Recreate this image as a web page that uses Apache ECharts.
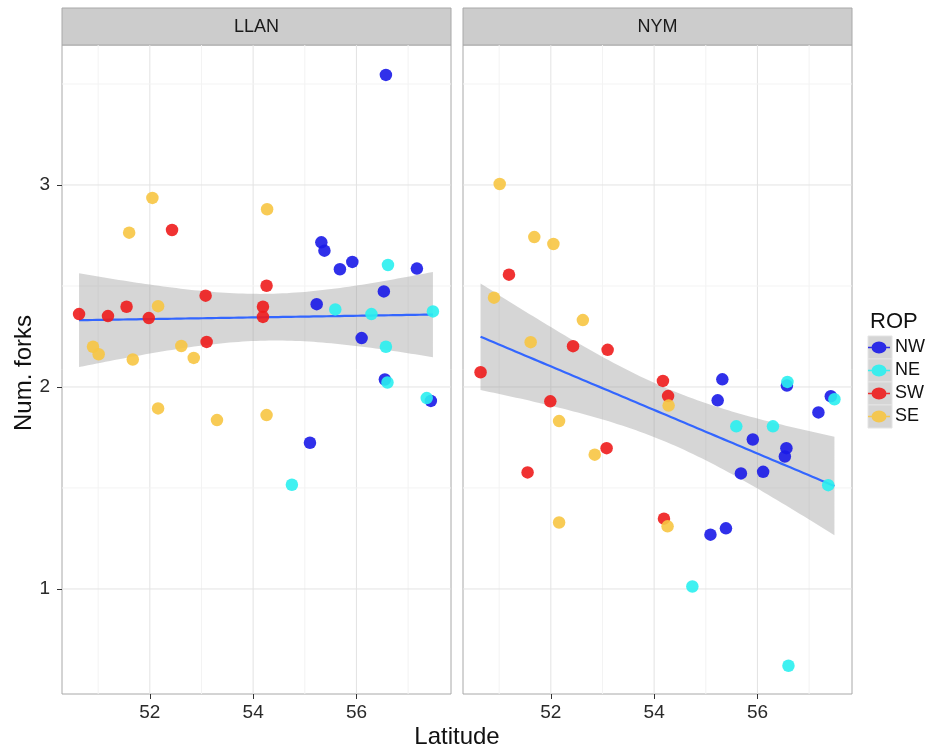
<!DOCTYPE html>
<html><head><meta charset="utf-8">
<script src="https://cdn.jsdelivr.net/npm/echarts@6/dist/echarts.min.js"></script>
<style>html,body{margin:0;padding:0;background:#fff}#c{width:930px;height:751px}</style>
</head><body><div id="c"></div>
<script>
// ---------- data ----------
const panels = ['LLAN', 'NYM'];
const ropGroups = ['NW', 'NE', 'SW', 'SE'];
const ropColors = {NW: '#1a1ae8', NE: '#2af0f0', SW: '#ee1c1c', SE: '#f7c543'};

// [latitude, number of forks]
const LLAN_NW = [[56.57,3.545],[55.32,2.716],[55.38,2.675],[55.68,2.583],[55.92,2.619],[57.17,2.586],[56.53,2.473],[55.23,2.41],[56.10,2.242],[56.55,2.037],[57.44,1.931],[55.10,1.724]];
const LLAN_NE = [[56.61,2.604],[55.59,2.384],[56.29,2.361],[57.48,2.374],[56.57,2.199],[56.60,2.022],[57.36,1.945],[54.75,1.516]];
const LLAN_SW = [[52.43,2.777],[54.26,2.501],[53.08,2.452],[50.63,2.361],[51.19,2.351],[51.55,2.397],[51.98,2.341],[54.19,2.397],[54.19,2.347],[53.10,2.223]];
const LLAN_SE = [[52.05,2.936],[54.27,2.88],[51.60,2.764],[52.16,2.40],[50.90,2.199],[51.01,2.162],[51.67,2.136],[52.61,2.203],[52.85,2.144],[52.16,1.894],[53.30,1.836],[54.26,1.861]];

const NYM_NW = [[55.32,2.038],[56.57,2.007],[57.42,1.954],[55.23,1.934],[57.18,1.874],[55.91,1.740],[56.56,1.697],[56.53,1.656],[55.68,1.572],[56.11,1.580],[55.09,1.269],[55.39,1.300]];
const NYM_NE = [[56.58,2.025],[57.49,1.939],[55.59,1.805],[56.30,1.805],[57.37,1.514],[54.74,1.012],[56.60,0.620]];
const NYM_SW = [[51.19,2.556],[52.43,2.202],[53.10,2.184],[50.64,2.073],[54.17,2.030],[54.27,1.955],[51.99,1.929],[53.08,1.697],[51.55,1.577],[54.19,1.348]];
const NYM_SE = [[51.01,3.005],[51.68,2.742],[52.05,2.708],[50.90,2.442],[52.62,2.331],[51.61,2.222],[54.28,1.908],[52.16,1.831],[52.85,1.665],[52.16,1.329],[54.26,1.310]];

const panelData = {
  LLAN: {NW: LLAN_NW, NE: LLAN_NE, SW: LLAN_SW, SE: LLAN_SE},
  NYM:  {NW: NYM_NW,  NE: NYM_NE,  SW: NYM_SW,  SE: NYM_SE}
};

const xTicks = [52, 54, 56];
const xMinor = [51, 53, 55, 57];
const yTicks = [1, 2, 3];
const yMinor = [1.5, 2.5, 3.5];
const xRange = [50.3, 57.83];
const yRange = [0.48, 3.693];

// ---------- linear fit with 95% confidence band (like geom_smooth(method="lm")) ----------
function lmBand(pts, steps) {
  const n = pts.length;
  let sx = 0, sy = 0;
  pts.forEach(p => { sx += p[0]; sy += p[1]; });
  const mx = sx / n, my = sy / n;
  let sxx = 0, sxy = 0;
  pts.forEach(p => { sxx += (p[0]-mx)*(p[0]-mx); sxy += (p[0]-mx)*(p[1]-my); });
  const b = sxy / sxx, a = my - b * mx;
  let sse = 0;
  pts.forEach(p => { const r = p[1] - (a + b*p[0]); sse += r*r; });
  const s = Math.sqrt(sse / (n - 2));
  const df = n - 2, z = 1.959964;
  const t = z + (z**3 + z)/(4*df) + (5*z**5 + 16*z**3 + 3*z)/(96*df*df);
  const xs = pts.map(p => p[0]);
  const x0 = Math.min(...xs), x1 = Math.max(...xs);
  const out = [];
  for (let i = 0; i <= steps; i++) {
    const x = x0 + (x1 - x0) * i / steps;
    const f = a + b * x;
    const se = s * Math.sqrt(1/n + (x-mx)*(x-mx)/sxx);
    out.push([x, f, f - t*se, f + t*se]);
  }
  return out;
}

// ---------- layout ----------
const font = 'Liberation Sans, Arial, Helvetica, sans-serif';
const grids = [
  {left: 62, top: 45, width: 389, height: 649},
  {left: 463, top: 45, width: 389, height: 649}
];

const chart = echarts.init(document.getElementById('c'), null, {renderer: 'canvas'});

const series = [];
panels.forEach((pn, k) => {
  // grid lines
  series.push({
    type: 'custom', xAxisIndex: k, yAxisIndex: k, silent: true, z: 0,
    data: xMinor.map(v => [v, 0]).concat(xTicks.map(v => [v, 1])),
    renderItem: (params, api) => {
      const v = api.value(0), major = api.value(1) === 1;
      const p0 = api.coord([v, yRange[0]]), p1 = api.coord([v, yRange[1]]);
      return {type: 'line', shape: {x1: p0[0], y1: p0[1], x2: p1[0], y2: p1[1]},
        style: {stroke: major ? '#e3e3e3' : '#f3f3f3', lineWidth: 1}};
    }
  });
  series.push({
    type: 'custom', xAxisIndex: k, yAxisIndex: k, silent: true, z: 0,
    data: yMinor.map(v => [xRange[0], v, 0]).concat(yTicks.map(v => [xRange[0], v, 1])),
    renderItem: (params, api) => {
      const v = api.value(1), major = api.value(2) === 1;
      const p0 = api.coord([xRange[0], v]), p1 = api.coord([xRange[1], v]);
      return {type: 'line', shape: {x1: p0[0], y1: p0[1], x2: p1[0], y2: p1[1]},
        style: {stroke: major ? '#e3e3e3' : '#f3f3f3', lineWidth: 1}};
    }
  });

  // smooth band + line
  const all = [];
  ropGroups.forEach(g => panelData[pn][g].forEach(p => all.push(p)));
  const band = lmBand(all, 80);
  series.push({
    type: 'custom', xAxisIndex: k, yAxisIndex: k, silent: true, z: 1,
    data: band, encode: {x: 0, y: [1, 2, 3]},
    renderItem: (params, api) => {
      if (params.dataIndex !== 0) return null;
      const up = [], lo = [];
      band.forEach(d => { up.push(api.coord([d[0], d[3]])); lo.push(api.coord([d[0], d[2]])); });
      return {type: 'polygon', shape: {points: up.concat(lo.reverse())},
        style: {fill: 'rgba(153,153,153,0.4)'}};
    }
  });
  series.push({
    type: 'line', xAxisIndex: k, yAxisIndex: k, silent: true, z: 2,
    data: band.map(d => [d[0], d[1]]), showSymbol: false, symbol: 'none',
    lineStyle: {color: '#3366ff', width: 2.2}
  });

  // points
  ropGroups.forEach(g => {
    series.push({
      name: g, type: 'scatter', xAxisIndex: k, yAxisIndex: k, z: 3,
      data: panelData[pn][g], symbolSize: 12.5,
      itemStyle: {color: ropColors[g], opacity: 0.9}
    });
  });
});

const legendIcon = 'path://M0,5.2H22V6.8H0Z M3.5,6A7.5,6 0 1,1 18.5,6A7.5,6 0 1,1 3.5,6Z';

const option = {
  backgroundColor: '#fff',
  animation: false,
  grid: grids.map(g => Object.assign({show: true, borderColor: '#a8a8a8', borderWidth: 1, backgroundColor: '#fff'}, g)),
  xAxis: grids.map((g, k) => ({
    gridIndex: k, type: 'value', min: xRange[0], max: xRange[1],
    splitLine: {show: false},
    axisLine: {show: false},
    axisTick: {show: true, customValues: xTicks, length: 5, lineStyle: {color: '#333'}},
    axisLabel: {customValues: xTicks, fontSize: 19, color: '#2a2a2a', margin: 9, fontFamily: font}
  })),
  yAxis: grids.map((g, k) => ({
    gridIndex: k, type: 'value', min: yRange[0], max: yRange[1],
    splitLine: {show: false},
    axisLine: {show: false},
    axisTick: {show: k === 0, customValues: yTicks, length: 5, lineStyle: {color: '#333'}},
    axisLabel: {show: k === 0, customValues: yTicks, fontSize: 19, color: '#2a2a2a', margin: 12, fontFamily: font}
  })),
  legend: {
    data: ropGroups, orient: 'vertical', left: 868, top: 336, padding: 0,
    itemWidth: 22, itemHeight: 12, itemGap: 0, icon: legendIcon,
    textStyle: {fontSize: 18, color: '#111', lineHeight: 23, fontFamily: font},
    selectedMode: false
  },
  graphic: [
    // facet strips
    {type: 'rect', shape: {x: 62, y: 8, width: 389, height: 37}, style: {fill: '#cccccc', stroke: '#a8a8a8', lineWidth: 1}, silent: true},
    {type: 'rect', shape: {x: 463, y: 8, width: 389, height: 37}, style: {fill: '#cccccc', stroke: '#a8a8a8', lineWidth: 1}, silent: true},
    {type: 'text', x: 256.5, y: 27, style: {text: panels[0], fontSize: 18, fill: '#1a1a1a', fontFamily: font, align: 'center', verticalAlign: 'middle'}, silent: true},
    {type: 'text', x: 657.5, y: 27, style: {text: panels[1], fontSize: 18, fill: '#1a1a1a', fontFamily: font, align: 'center', verticalAlign: 'middle'}, silent: true},
    // axis titles
    {type: 'text', x: 457, y: 737, style: {text: 'Latitude', fontSize: 24, fill: '#111', fontFamily: font, align: 'center', verticalAlign: 'middle'}, silent: true},
    {type: 'text', x: 24, y: 373, rotation: Math.PI / 2, style: {text: 'Num. forks', fontSize: 24, fill: '#111', fontFamily: font, align: 'center', verticalAlign: 'middle'}, silent: true},
    // legend title and key backgrounds
    {type: 'text', x: 870, y: 322, style: {text: 'ROP', fontSize: 22, fill: '#111', fontFamily: font, align: 'left', verticalAlign: 'middle'}, silent: true},
    {type: 'rect', shape: {x: 868, y: 336, width: 24, height: 23}, style: {fill: '#d5d5d5', stroke: '#e4e4e4', lineWidth: 1}, silent: true, z: -1},
    {type: 'rect', shape: {x: 868, y: 359, width: 24, height: 23}, style: {fill: '#d5d5d5', stroke: '#e4e4e4', lineWidth: 1}, silent: true, z: -1},
    {type: 'rect', shape: {x: 868, y: 382, width: 24, height: 23}, style: {fill: '#d5d5d5', stroke: '#e4e4e4', lineWidth: 1}, silent: true, z: -1},
    {type: 'rect', shape: {x: 868, y: 405, width: 24, height: 23}, style: {fill: '#d5d5d5', stroke: '#e4e4e4', lineWidth: 1}, silent: true, z: -1}
  ],
  series: series
};
chart.setOption(option);
</script>
</body></html>
